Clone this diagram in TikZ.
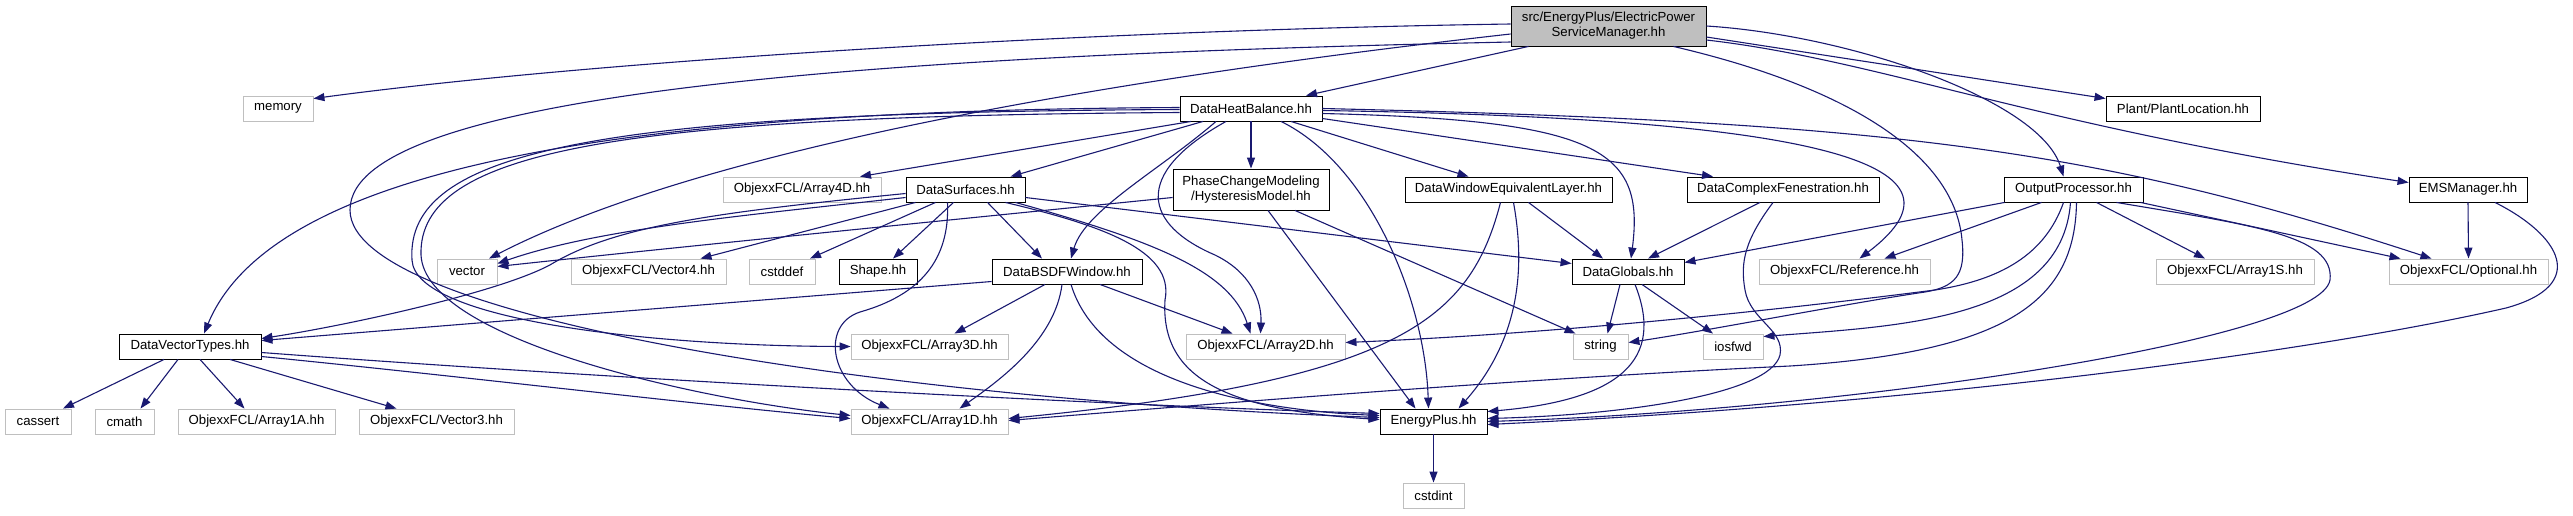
\documentclass[tikz,border=0pt]{standalone}
\usepackage{fontspec}
\setmainfont{Liberation Sans}
\usetikzlibrary{arrows.meta}
\definecolor{edgeblue}{HTML}{191970}
\definecolor{extgrey}{HTML}{BFBFBF}
\tikzset{
  nd/.style={draw, inner sep=0pt, minimum height=25pt, font=\fontsize{13.2}{15}\selectfont, align=center, fill=white, line width=0.9pt},
  docnode/.style={nd, draw=black},
  extnode/.style={nd, draw=extgrey},
  rootnode/.style={nd, draw=black, fill=extgrey},
  edge/.style={draw=edgeblue, line width=1.1pt, -{Triangle[length=11pt,width=8pt]}},
}
\begin{document}
\begin{tikzpicture}[x=1pt,y=-1pt]
\useasboundingbox (0,0) rectangle (2573,515);
% rank 0
\node[rootnode, minimum width=195pt, minimum height=40pt] (root) at (1608.5,26) {src/EnergyPlus/ElectricPower\\ServiceManager.hh};
% rank 1
\node[extnode, minimum width=70pt] (memory) at (278,108.5) {memory};
\node[docnode, minimum width=142pt] (dhb) at (1251,108.5) {DataHeatBalance.hh};
\node[docnode, minimum width=154pt] (plant) at (2183,108.5) {Plant/PlantLocation.hh};
% rank 2
\node[extnode, minimum width=158pt] (a4d) at (802,189.5) {ObjexxFCL/Array4D.hh};
\node[docnode, minimum width=119pt] (ds) at (965.5,189.5) {DataSurfaces.hh};
\node[docnode, minimum width=156pt, minimum height=41pt] (pc) at (1251,189.5) {PhaseChangeModeling\\/HysteresisModel.hh};
\node[docnode, minimum width=207pt] (dwel) at (1508.5,189.5) {DataWindowEquivalentLayer.hh};
\node[docnode, minimum width=192pt] (dcf) at (1783,189.5) {DataComplexFenestration.hh};
\node[docnode, minimum width=139pt] (op) at (2073.5,189.5) {OutputProcessor.hh};
\node[docnode, minimum width=118pt] (ems) at (2468,189.5) {EMSManager.hh};
% rank 3
\node[extnode, minimum width=60pt] (vector) at (467,271.5) {vector};
\node[extnode, minimum width=155pt] (v4) at (648.5,271.5) {ObjexxFCL/Vector4.hh};
\node[extnode, minimum width=66pt] (cstddef) at (782,271.5) {cstddef};
\node[docnode, minimum width=78pt] (shape) at (878,271.5) {Shape.hh};
\node[docnode, minimum width=150pt] (dbsdf) at (1067,271.5) {DataBSDFWindow.hh};
\node[docnode, minimum width=112pt] (dg) at (1628,271.5) {DataGlobals.hh};
\node[extnode, minimum width=171pt] (ref) at (1844.5,271.5) {ObjexxFCL/Reference.hh};
\node[extnode, minimum width=158pt] (a1s) at (2235,271.5) {ObjexxFCL/Array1S.hh};
\node[extnode, minimum width=159pt] (opt) at (2468.5,271.5) {ObjexxFCL/Optional.hh};
% rank 4
\node[docnode, minimum width=142pt] (dvt) at (190,346.5) {DataVectorTypes.hh};
\node[extnode, minimum width=157pt] (a3d) at (929.5,346.5) {ObjexxFCL/Array3D.hh};
\node[extnode, minimum width=159pt] (a2d) at (1265.5,346.5) {ObjexxFCL/Array2D.hh};
\node[extnode, minimum width=55pt] (string) at (1600.5,346.5) {string};
\node[extnode, minimum width=60pt] (iosfwd) at (1733,346.5) {iosfwd};
% rank 5
\node[extnode, minimum width=66pt] (cassert) at (38,421.5) {cassert};
\node[extnode, minimum width=59pt] (cmath) at (124.5,421.5) {cmath};
\node[extnode, minimum width=157pt] (a1a) at (256.5,421.5) {ObjexxFCL/Array1A.hh};
\node[extnode, minimum width=155pt] (v3) at (436.5,421.5) {ObjexxFCL/Vector3.hh};
\node[extnode, minimum width=157pt] (a1d) at (929.5,421.5) {ObjexxFCL/Array1D.hh};
\node[docnode, minimum width=107pt] (ep) at (1433.5,421.5) {EnergyPlus.hh};
% rank 6
\node[extnode, minimum width=61pt] (cstdint) at (1433.5,495.5) {cstdint};

% root edges
\draw[edge] ([yshift=2]root.west) .. controls (1100,30) and (600,60) .. ([yshift=-3]memory.north east);
\draw[edge] ([xshift=-80]root.south) -- ([xshift=55]dhb.north);
\draw[edge] ([yshift=-8]root.west) .. controls (1100,80) and (700,150) .. ([xshift=22]vector.north);
\draw[edge] ([yshift=-16]root.west) .. controls (900,55) and (350,90) .. (350,210) .. controls (350,320) and (900,400) .. ([yshift=4]ep.west);
\draw[edge] ([yshift=-11]root.east) -- ([yshift=10]plant.west);
\draw[edge] (root.east) .. controls (1850,35) and (2040,100) .. ([xshift=-10]op.north);
\draw[edge] ([yshift=-14]root.east) .. controls (1880,60) and (2030,125) .. ([yshift=7]ems.west);
\draw[edge] ([xshift=65]root.south) .. controls (1860,90) and (1955,160) .. (1962,240) .. controls (1966,275) and (1955,287) .. (1925,292) .. controls (1850,303) and (1700,332) .. ([yshift=4]string.east);

% DataHeatBalance edges
\draw[edge] ([yshift=1]dhb.west) .. controls (700,110) and (280,150) .. ([xshift=14]dvt.north);
\draw[edge] ([yshift=-1]dhb.west) .. controls (600,112) and (405,150) .. (412,260) .. controls (415,320) and (650,346) .. (a3d.west);
\draw[edge] ([yshift=-4]dhb.west) .. controls (620,116) and (418,150) .. (421,255) .. controls (425,340) and (700,400) .. ([yshift=6]a1d.west);
\draw[edge] ([xshift=-60]dhb.south) -- ([xshift=58]a4d.north);
\draw[edge] ([xshift=-48]dhb.south) -- ([xshift=45]ds.north);
\draw[edge] (dhb.south) -- (pc.north);
\draw[edge] ([xshift=40]dhb.south) -- ([xshift=-40]dwel.north);
\draw[edge] ([yshift=-10]dhb.east) -- ([xshift=-70]dcf.north);
\draw[edge] ([yshift=-5]dhb.east) .. controls (1600,120) and (1645,150) .. ([xshift=3]dg.north);
\draw[edge] ([yshift=-2]dhb.east) .. controls (1800,118) and (1990,160) .. ([xshift=15]ref.north);
\draw[edge] (dhb.east) .. controls (1900,122) and (2100,150) .. ([xshift=-37]opt.north);
\draw[edge] ([xshift=-35]dhb.south) .. controls (1160,170) and (1085,210) .. ([xshift=4]dbsdf.north);
\draw[edge] ([xshift=-25]dhb.south) .. controls (1130,175) and (1145,225) .. (1215,255) .. controls (1250,272) and (1262,300) .. ([xshift=-5]a2d.north);
\draw[edge] ([xshift=30]dhb.south) .. controls (1370,165) and (1425,300) .. ([xshift=-5]ep.north);

% DataSurfaces edges
\draw[edge] ([yshift=-8]ds.west) .. controls (750,215) and (600,228) .. ([yshift=8]vector.east);
\draw[edge] ([xshift=-50]ds.south) -- ([xshift=52]v4.north);
\draw[edge] ([xshift=-30]ds.south) -- ([xshift=28]cstddef.north);
\draw[edge] ([xshift=-12]ds.south) -- ([xshift=15]shape.north);
\draw[edge] ([yshift=-4]ds.west) .. controls (720,212) and (620,225) .. (555,262) .. controls (510,290) and (350,325) .. ([yshift=8]dvt.east);
\draw[edge] ([xshift=22]ds.south) -- ([xshift=-25]dbsdf.north);
\draw[edge] ([xshift=50]ds.south) .. controls (1150,240) and (1230,270) .. ([xshift=-15]a2d.north);
\draw[edge] ([xshift=40]ds.south) .. controls (1100,225) and (1175,250) .. (1165,300) .. controls (1160,380) and (1230,410) .. ([yshift=2]ep.west);
\draw[edge] ([yshift=-8]ds.east) -- ([yshift=8]dg.west);
\draw[edge] ([xshift=-18]ds.south) .. controls (950,260) and (920,295) .. (860,312) .. controls (820,325) and (830,385) .. ([xshift=-40]a1d.north);

% PhaseChange edges
\draw[edge] ([yshift=-8]pc.west) .. controls (900,225) and (650,250) .. ([yshift=5]vector.east);
\draw[edge] ([xshift=17]pc.south) -- ([xshift=-18]ep.north);
\draw[edge] ([xshift=44]pc.south) -- ([xshift=-25]string.north);

% DataWindowEquivalentLayer edges
\draw[edge] ([xshift=20]dwel.south) -- ([xshift=-25]dg.north);
\draw[edge] ([xshift=5]dwel.south) .. controls (1522,250) and (1528,330) .. ([xshift=25]ep.north);
\draw[edge] ([xshift=-8]dwel.south) .. controls (1470,320) and (1400,380) .. ([yshift=3]a1d.east);

% DataComplexFenestration edges
\draw[edge] ([xshift=-23]dcf.south) -- ([xshift=20]dg.north);
\draw[edge] ([xshift=-10]dcf.south) .. controls (1745,240) and (1740,262) .. (1745,290) .. controls (1750,320) and (1785,330) .. (1780,355) .. controls (1770,395) and (1620,415) .. ([yshift=3]ep.east);

% OutputProcessor edges
\draw[edge] ([xshift=1]op.south west) -- ([yshift=9]dg.east);
\draw[edge] ([xshift=-32]op.south) -- ([xshift=40]ref.north);
\draw[edge] ([xshift=-10]op.south) .. controls (2045,255) and (2000,280) .. (1935,290) .. controls (1700,320) and (1500,336) .. ([yshift=4]a2d.east);
\draw[edge] ([xshift=-3]op.south) .. controls (2062,320) and (1900,326) .. ([yshift=10]iosfwd.east);
\draw[edge] ([xshift=3]op.south) .. controls (2075,300) and (2010,352) .. (1790,366) .. controls (1500,380) and (1200,405) .. ([yshift=1]a1d.east);
\draw[edge] ([xshift=23]op.south) -- ([xshift=-30]a1s.north);
\draw[edge] ([xshift=43]op.south) .. controls (2250,225) and (2335,235) .. (2330,280) .. controls (2320,340) and (1850,410) .. (ep.east);
\draw[edge] ([xshift=67]op.south) -- ([xshift=-68]opt.north);

% EMSManager edges
\draw[edge] (ems.south) -- (opt.north);
\draw[edge] ([xshift=27]ems.south) .. controls (2560,235) and (2590,285) .. (2506,308) .. controls (2300,355) and (1900,405) .. ([yshift=-3]ep.east);

% DataGlobals edges
\draw[edge] ([xshift=-8]dg.south) -- ([xshift=7]string.north);
\draw[edge] ([xshift=14]dg.south) -- ([xshift=-20]iosfwd.north);
\draw[edge] ([xshift=7]dg.south) .. controls (1665,360) and (1620,400) .. ([yshift=10]ep.east);

% DataBSDFWindow edges
\draw[edge] ([yshift=-10]dbsdf.west) -- ([yshift=6]dvt.east);
\draw[edge] ([xshift=-22]dbsdf.south) -- ([xshift=25]a3d.north);
\draw[edge] ([xshift=-5]dbsdf.south) .. controls (1055,340) and (1000,380) .. ([xshift=30]a1d.north);
\draw[edge] ([xshift=4]dbsdf.south) .. controls (1100,380) and (1250,410) .. ([yshift=6]ep.west);
\draw[edge] ([xshift=33]dbsdf.south) -- ([xshift=-33]a2d.north);

% DataVectorTypes edges
\draw[edge] ([xshift=-26]dvt.south) -- ([xshift=25]cassert.north);
\draw[edge] ([xshift=-12]dvt.south) -- ([xshift=16]cmath.north);
\draw[edge] ([xshift=10]dvt.south) -- ([xshift=-12]a1a.north);
\draw[edge] ([xshift=40]dvt.south) -- ([xshift=-40]v3.north);
\draw[edge] ([yshift=-10]dvt.east) .. controls (450,375) and (700,405) .. ([yshift=3]a1d.west);
\draw[edge] ([yshift=-6]dvt.east) .. controls (600,378) and (1100,405) .. ([yshift=8]ep.west);

% EnergyPlus
\draw[edge] (ep.south) -- (cstdint.north);
\end{tikzpicture}
\end{document}
